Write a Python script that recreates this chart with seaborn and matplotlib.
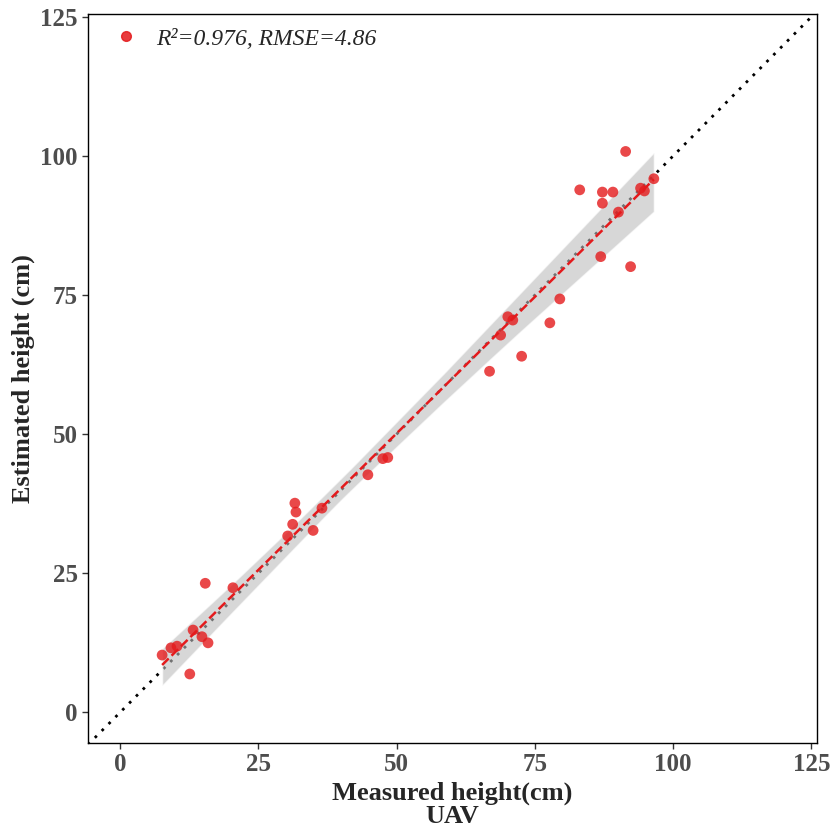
import numpy as np
import pandas as pd
import matplotlib
matplotlib.use('Agg')
import matplotlib.pyplot as plt
import seaborn as sns
from matplotlib.lines import Line2D

# 측정값 (UAV) vs 추정값
measured = [7.6, 9.2, 10.3, 12.6, 13.2, 14.8, 15.4, 15.9, 20.4, 30.3, 31.2, 31.6, 31.8,
            34.9, 36.5, 44.8, 47.5, 48.4, 66.8, 68.8, 70.1, 71.0, 72.6, 77.7, 79.5,
            83.1, 86.9, 87.2, 87.2, 89.1, 90.1, 91.4, 92.3, 94.1, 94.8, 96.5]
estimated = [10.3, 11.6, 11.9, 6.9, 14.8, 13.6, 23.2, 12.5, 22.4, 31.7, 33.8, 37.6, 36.0,
             32.7, 36.7, 42.7, 45.6, 45.8, 61.3, 67.8, 71.1, 70.5, 64.0, 70.0, 74.3,
             93.9, 81.9, 91.5, 93.5, 93.5, 89.9, 100.8, 80.1, 94.2, 93.7, 95.9]
ticks = [0, 25, 50, 75, 100, 125]
label = 'R²=0.976, RMSE=4.86'

df = pd.DataFrame({'measured': measured, 'estimated': estimated})

sns.set_style('white')
plt.rcParams['font.family'] = ['Liberation Serif', 'DejaVu Serif']

fig = plt.figure(figsize=(8.39, 8.35), dpi=100)
ax = fig.add_axes([88/839, 1 - 743/835, (817-88)/839, (743-14)/835])

lim = (-5.8, 126)
ax.plot(lim, lim, linestyle=(0, (1, 2.5)), color='black', lw=2, zorder=1)
sns.regplot(data=df, x='measured', y='estimated', ax=ax, ci=99.9, color='#e41a1c',
            scatter_kws={'s': 60, 'alpha': 0.8, 'edgecolor': 'none', 'zorder': 3},
            line_kws={'linestyle': '--', 'lw': 1.8, 'color': '#e41a1c', 'zorder': 4})
for coll in ax.collections:
    if isinstance(coll, matplotlib.collections.PolyCollection):
        coll.set_facecolor('#bdbdbd')
        coll.set_alpha(0.6)

ax.set_xlim(lim)
ax.set_ylim(-5.5, 125.5)
ax.set_xticks(ticks)
ax.set_yticks(ticks)
ax.tick_params(axis='both', length=4, width=1, color='#333333', labelsize=18,
               labelcolor='#4d4d4d', direction='out', bottom=True, left=True)
for t in ax.get_xticklabels() + ax.get_yticklabels():
    t.set_fontweight('bold')
for s in ax.spines.values():
    s.set_color('black')
    s.set_linewidth(1)

ax.set_xlabel('Measured height(cm)\nUAV', fontsize=19, fontweight='bold', linespacing=1.0)
ax.set_ylabel('Estimated height (cm)', fontsize=19, fontweight='bold')

handle = Line2D([], [], marker='o', color='#e41a1c', linestyle='none', markersize=7, alpha=0.85)
leg = ax.legend([handle], [label], loc='upper left', frameon=False,
                prop={'style': 'italic', 'size': 17}, handletextpad=0.3,
                borderaxespad=0.2, bbox_to_anchor=(0.0, 1.0))

fig.savefig('out.png', dpi=100)
